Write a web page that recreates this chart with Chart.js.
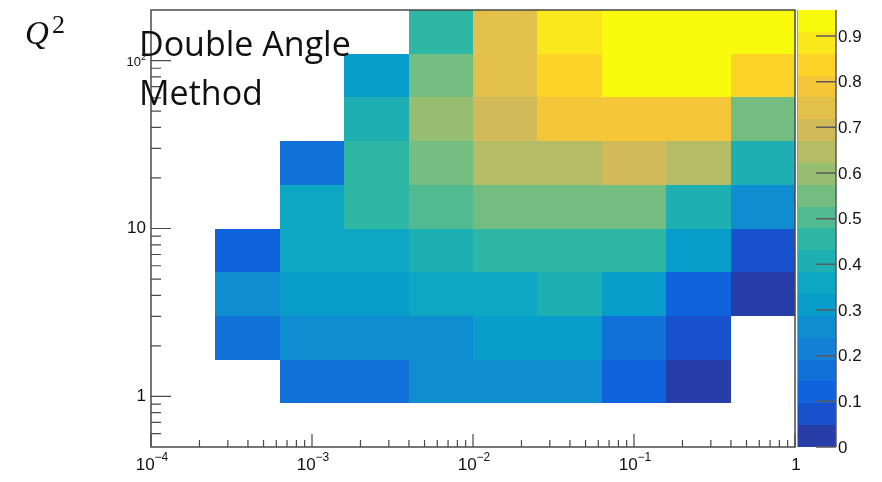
<!DOCTYPE html>
<html lang="en">
<head>
<meta charset="UTF-8">
<title>Double Angle Method</title>
<script src="https://cdn.jsdelivr.net/npm/chart.js@4.4.1/dist/chart.umd.min.js"></script>
<style>
  html, body { margin: 0; padding: 0; background: #fff; }
  #wrap { width: 882px; height: 482px; }
</style>
</head>
<body>
<div id="wrap"><canvas id="grafico" width="882" height="482"></canvas></div>
<script>
// bin edges: x in steps of 0.4 decade, Q2 in 10 log bins from 0.5 to 200
const xEdges = [1e-4, 2.512e-4, 6.310e-4, 1.585e-3, 3.981e-3, 1e-2, 2.512e-2, 6.310e-2, 0.1585, 0.3981, 1];
const q2Edges = [0.5, 0.910, 1.657, 3.017, 5.492, 10, 18.21, 33.14, 60.34, 109.8, 200];

// cell contents, one array per Q2 bin (lowest first), null = empty bin
const q2Bin0 = [null, null, null, null, null, null, null, null, null, null];
const q2Bin1 = [null, null, 0.17, 0.17, 0.26, 0.26, 0.26, 0.12, 0.02, null];
const q2Bin2 = [null, 0.17, 0.26, 0.26, 0.26, 0.31, 0.31, 0.17, 0.07, null];
const q2Bin3 = [null, 0.26, 0.31, 0.31, 0.36, 0.36, 0.41, 0.31, 0.12, 0.02];
const q2Bin4 = [null, 0.12, 0.36, 0.36, 0.41, 0.45, 0.45, 0.45, 0.31, 0.07];
const q2Bin5 = [null, null, 0.36, 0.45, 0.50, 0.55, 0.55, 0.55, 0.41, 0.26];
const q2Bin6 = [null, null, 0.17, 0.45, 0.55, 0.65, 0.65, 0.69, 0.65, 0.41];
const q2Bin7 = [null, null, null, 0.41, 0.60, 0.69, 0.79, 0.79, 0.79, 0.55];
const q2Bin8 = [null, null, null, 0.31, 0.55, 0.74, 0.84, 0.95, 0.94, 0.84];
const q2Bin9 = [null, null, null, null, 0.45, 0.74, 0.89, 0.957, 0.95, 0.94];
const cellRows = [q2Bin0, q2Bin1, q2Bin2, q2Bin3, q2Bin4, q2Bin5, q2Bin6, q2Bin7, q2Bin8, q2Bin9];

// axis labels
const xTicks = [1e-4, 1e-3, 1e-2, 1e-1, 1];
const xTickLabels = ['10^\u22124', '10^\u22123', '10^\u22122', '10^\u22121', '1'];
const yTicks = [1, 10, 100];
const yTickLabels = ['1', '10', '10^2'];
const zTicks = [0, 0.1, 0.2, 0.3, 0.4, 0.5, 0.6, 0.7, 0.8, 0.9];
const zTickLabels = ['0', '0.1', '0.2', '0.3', '0.4', '0.5', '0.6', '0.7', '0.8', '0.9'];

const zMax = Math.max(...cellRows.flat().filter(v => v !== null));

// kBird colour palette, 20 contour bands
const birdStops = [0.0000, 0.1250, 0.2500, 0.3750, 0.5000, 0.6250, 0.7500, 0.8750, 1.0000];
const birdR = [0.2082, 0.0592, 0.0780, 0.0232, 0.1802, 0.5301, 0.8186, 0.9956, 0.9764];
const birdG = [0.1664, 0.3599, 0.5041, 0.6419, 0.7178, 0.7492, 0.7328, 0.7862, 0.9832];
const birdB = [0.5293, 0.8684, 0.8385, 0.7914, 0.6425, 0.4662, 0.3499, 0.1968, 0.0539];
const nBands = 20;

function birdColor(f) {
    let k = 0;
    while (k < birdStops.length - 2 && f > birdStops[k + 1]) k++;
    const t = (f - birdStops[k]) / (birdStops[k + 1] - birdStops[k]);
    const c = arr => Math.round(255 * (arr[k] + (arr[k + 1] - arr[k]) * t));
    return `rgb(${c(birdR)},${c(birdG)},${c(birdB)})`;
}

const bandColors = [];
for (let b = 0; b < nBands; b++) {
    bandColors.push(birdColor(Math.floor((b + 0.99) * 255 / nBands) / 254));
}

function colorFor(v) {
    const b = Math.min(nBands - 1, Math.floor(v / zMax * nBands));
    return bandColors[b];
}

const SANS = '"Liberation Sans", Arial, sans-serif';

// "10^-2" style labels: base plus raised exponent
function drawPow(ctx, label, x, y, align, size) {
    const parts = label.split('^');
    const supSize = Math.round(size * 0.72);
    ctx.font = `${size}px ${SANS}`;
    const wb = ctx.measureText(parts[0]).width;
    let we = 0;
    if (parts[1]) {
        ctx.font = `${supSize}px ${SANS}`;
        we = ctx.measureText(parts[1]).width;
    }
    const total = wb + we;
    let x0 = x;
    if (align === 'center') x0 = x - total / 2;
    if (align === 'right') x0 = x - total;
    ctx.textAlign = 'left';
    ctx.textBaseline = 'middle';
    ctx.font = `${size}px ${SANS}`;
    ctx.fillText(parts[0], x0, y);
    if (parts[1]) {
        ctx.font = `${supSize}px ${SANS}`;
        ctx.fillText(parts[1], x0 + wb, y - size * 0.42);
    }
}

const heatmap = {
    id: 'heatmap',
    beforeDatasetsDraw(chart) {
        const { ctx, scales: { x, y } } = chart;
        ctx.save();
        cellRows.forEach((row, j) => {
            row.forEach((v, i) => {
                if (v === null) return;
                const x0 = Math.round(x.getPixelForValue(xEdges[i]));
                const x1 = Math.round(x.getPixelForValue(xEdges[i + 1]));
                const y0 = Math.round(y.getPixelForValue(q2Edges[j]));
                const y1 = Math.round(y.getPixelForValue(q2Edges[j + 1]));
                ctx.fillStyle = colorFor(v);
                ctx.fillRect(x0, y1, x1 - x0, y0 - y1);
            });
        });
        ctx.restore();
    },
    afterDatasetsDraw(chart) {
        const { ctx, chartArea: area, scales: { x, y, z } } = chart;
        ctx.save();

        // frame
        ctx.strokeStyle = '#4a4a4a';
        ctx.lineWidth = 1.5;
        ctx.strokeRect(area.left, area.top, area.right - area.left, area.bottom - area.top);

        // x ticks, drawn inward from the bottom axis
        ctx.lineWidth = 1.2;
        ctx.beginPath();
        for (let d = -4; d <= 0; d++) {
            for (let m = 1; m <= 9; m++) {
                const v = m * Math.pow(10, d);
                if (v > 1.0001) break;
                const px = x.getPixelForValue(v);
                const len = m === 1 ? 13 : 7;
                ctx.moveTo(px, area.bottom);
                ctx.lineTo(px, area.bottom - len);
            }
        }
        // y ticks, drawn inward from the left axis
        for (let d = -1; d <= 2; d++) {
            for (let m = 1; m <= 9; m++) {
                const v = m * Math.pow(10, d);
                if (v <= 0.5 || v >= 200) continue;
                const py = y.getPixelForValue(v);
                const len = m === 1 ? 20 : 10;
                ctx.moveTo(area.left, py);
                ctx.lineTo(area.left + len, py);
            }
        }
        ctx.stroke();

        // tick labels
        ctx.fillStyle = '#111';
        xTicks.forEach((v, i) => {
            drawPow(ctx, xTickLabels[i], x.getPixelForValue(v) + 1, area.bottom + 18, 'center', 17);
        });
        yTicks.forEach((v, i) => {
            const lbl = yTickLabels[i];
            const size = lbl.includes('^') ? 13 : 17;
            drawPow(ctx, lbl, area.left - 5, y.getPixelForValue(v) + (size < 17 ? 2 : 0), 'right', size);
        });

        // colour palette on the right
        const palLeft = area.right + 3;
        const palRight = area.right + 41;
        for (let b = 0; b < nBands; b++) {
            const yb = z.getPixelForValue(b * zMax / nBands);
            const yt = z.getPixelForValue((b + 1) * zMax / nBands);
            ctx.fillStyle = bandColors[b];
            ctx.fillRect(palLeft, Math.round(yt), palRight - palLeft, Math.round(yb) - Math.round(yt));
        }
        ctx.strokeStyle = '#9a9a9a';
        ctx.lineWidth = 1;
        ctx.beginPath();
        ctx.moveTo(palLeft - 0.5, area.top);
        ctx.lineTo(palLeft - 0.5, area.bottom);
        ctx.stroke();
        ctx.strokeStyle = '#5a5a5a';
        ctx.lineWidth = 1.5;
        ctx.beginPath();
        ctx.moveTo(palRight, area.top);
        ctx.lineTo(palRight, area.bottom);
        zTicks.forEach(v => {
            const py = z.getPixelForValue(v);
            ctx.moveTo(palRight - 20, py);
            ctx.lineTo(palRight, py);
        });
        ctx.stroke();
        ctx.fillStyle = '#111';
        zTicks.forEach((v, i) => {
            drawPow(ctx, zTickLabels[i], palRight + 2, z.getPixelForValue(v) + 1, 'left', 17);
        });

        // Q^2 axis title and method label
        ctx.fillStyle = '#111';
        ctx.textAlign = 'left';
        ctx.textBaseline = 'alphabetic';
        ctx.font = 'italic 33px "Liberation Serif", "DejaVu Serif", serif';
        ctx.fillText('Q', 25, 44);
        ctx.font = '26px "Liberation Serif", "DejaVu Serif", serif';
        ctx.fillText('2', 52, 33);

        ctx.font = '34px "Open Sans", "Noto Sans", sans-serif';
        ctx.fillText('Double Angle', 139, 56);
        ctx.fillText('Method', 139, 105);

        ctx.restore();
    }
};

const grafico = new Chart(document.getElementById('grafico').getContext('2d'), {
    type: 'scatter',
    data: { datasets: [{ data: [], pointRadius: 0 }] },
    options: {
        responsive: false,
        animation: false,
        layout: { padding: { left: 151, top: 10, right: 87, bottom: 35 } },
        plugins: { legend: { display: false }, tooltip: { enabled: false } },
        scales: {
            x: { type: 'logarithmic', min: 1e-4, max: 1, display: false },
            y: { type: 'logarithmic', min: 0.5, max: 200, display: false },
            z: { type: 'linear', axis: 'y', position: 'right', min: 0, max: zMax, display: false }
        }
    },
    plugins: [heatmap]
});
</script>
</body>
</html>
